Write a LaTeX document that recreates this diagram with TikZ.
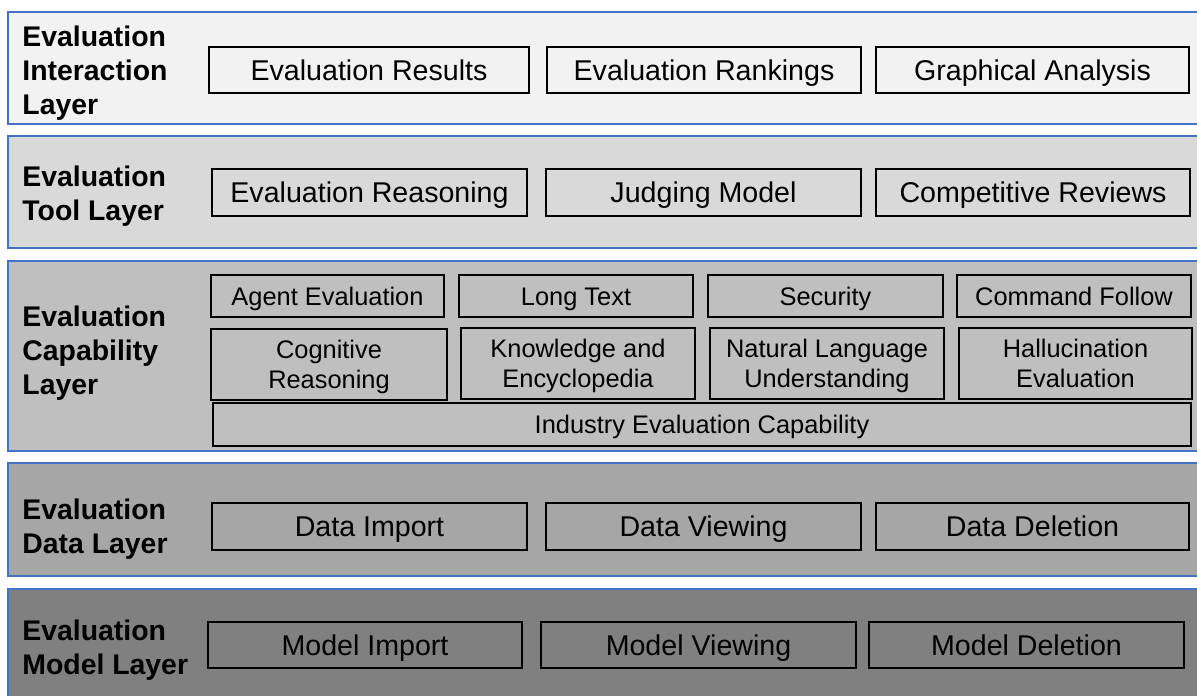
\documentclass[tikz,border=0pt]{standalone}
\usepackage{fontspec}
\setmainfont{Liberation Sans}
\definecolor{bandline}{RGB}{68,114,196}
\tikzset{
  band/.style={draw=bandline, line width=0.7pt},
  layer/.style={anchor=west, align=left, inner sep=0pt, text depth=0pt,
    font=\bfseries\fontsize{14.2}{17}\selectfont},
  cell/.style 2 args={draw, line width=0.9pt, inner sep=0pt, align=center,
    minimum width=#1*0.5pt, minimum height=#2*0.5pt, text height=10.2pt, text depth=0pt,
    font=\fontsize{14.3}{17}\selectfont},
  small/.style={font=\fontsize{12.7}{15}\selectfont, text height=9.1pt},
  twoline/.style={text height=24.1pt}
}
\begin{document}
\begin{tikzpicture}[x=0.5pt, y=-0.5pt]

  \useasboundingbox (0,0) rectangle (1197,695);
  \clip (0,0) rectangle (1197,695);

  \filldraw [band, fill=black!5] (8,12) rectangle (1215,124);
  \filldraw [band, fill=black!15] (8,136) rectangle (1215,248);
  \filldraw [band, fill=black!25] (8,261) rectangle (1215,451);
  \filldraw [band, fill=black!35] (8,463) rectangle (1215,576);
  \filldraw [band, fill=black!50] (8,589) rectangle (1215,720);

  \node [layer, text height=44.2pt] (l1) at (22,70) {Evaluation\\Interaction\\Layer};
  \node [layer, text height=27.2pt] (l2) at (22,193) {Evaluation\\Tool Layer};
  \node [layer, text height=44.2pt] (l3) at (22,350) {Evaluation\\Capability\\Layer};
  \node [layer, text height=27.2pt] (l4) at (22,526) {Evaluation\\Data Layer};
  \node [layer, text height=27.2pt] (l5) at (22,647) {Evaluation\\Model Layer};

  \node [cell={320}{46}] (a) at (369,70) {Evaluation Results};
  \node [cell={314}{46}] (b) at (704,70) {Evaluation Rankings};
  \node [cell={313}{46}] (c) at (1032.5,70) {Graphical Analysis};

  \node [cell={315}{47}] (d) at (369.5,192.5) {Evaluation Reasoning};
  \node [cell={315}{47}] (e) at (703.5,192.5) {Judging Model};
  \node [cell={314}{47}] (f) at (1033,192.5) {Competitive Reviews};

  \node [cell={233}{42}, small] (g) at (327.5,296) {Agent Evaluation};
  \node [cell={234}{42}, small] (h) at (576,296) {Long Text};
  \node [cell={235}{42}, small] (i) at (825.5,296) {Security};
  \node [cell={234}{42}, small] (j) at (1074,296) {Command Follow};
  \node [cell={236}{71}, small, twoline] (k) at (329,364.5) {Cognitive\\Reasoning};
  \node [cell={234}{71}, small, twoline] (l) at (578,363.5) {Knowledge and\\Encyclopedia};
  \node [cell={234}{71}, small, twoline] (m) at (827,363.5) {Natural Language\\Understanding};
  \node [cell={233}{71}, small, twoline] (n) at (1075.5,363.5) {Hallucination\\Evaluation};
  \node [cell={978}{43}, small] (o) at (702,424.5) {Industry Evaluation Capability};

  \node [cell={315}{47}] (p) at (369.5,526.5) {Data Import};
  \node [cell={315}{47}] (q) at (703.5,526.5) {Data Viewing};
  \node [cell={313}{47}] (r) at (1032.5,526.5) {Data Deletion};

  \node [cell={314}{46}] (s) at (365,645) {Model Import};
  \node [cell={315}{46}] (t) at (698.5,645) {Model Viewing};
  \node [cell={315}{46}] (u) at (1026.5,645) {Model Deletion};

\end{tikzpicture}
\end{document}
